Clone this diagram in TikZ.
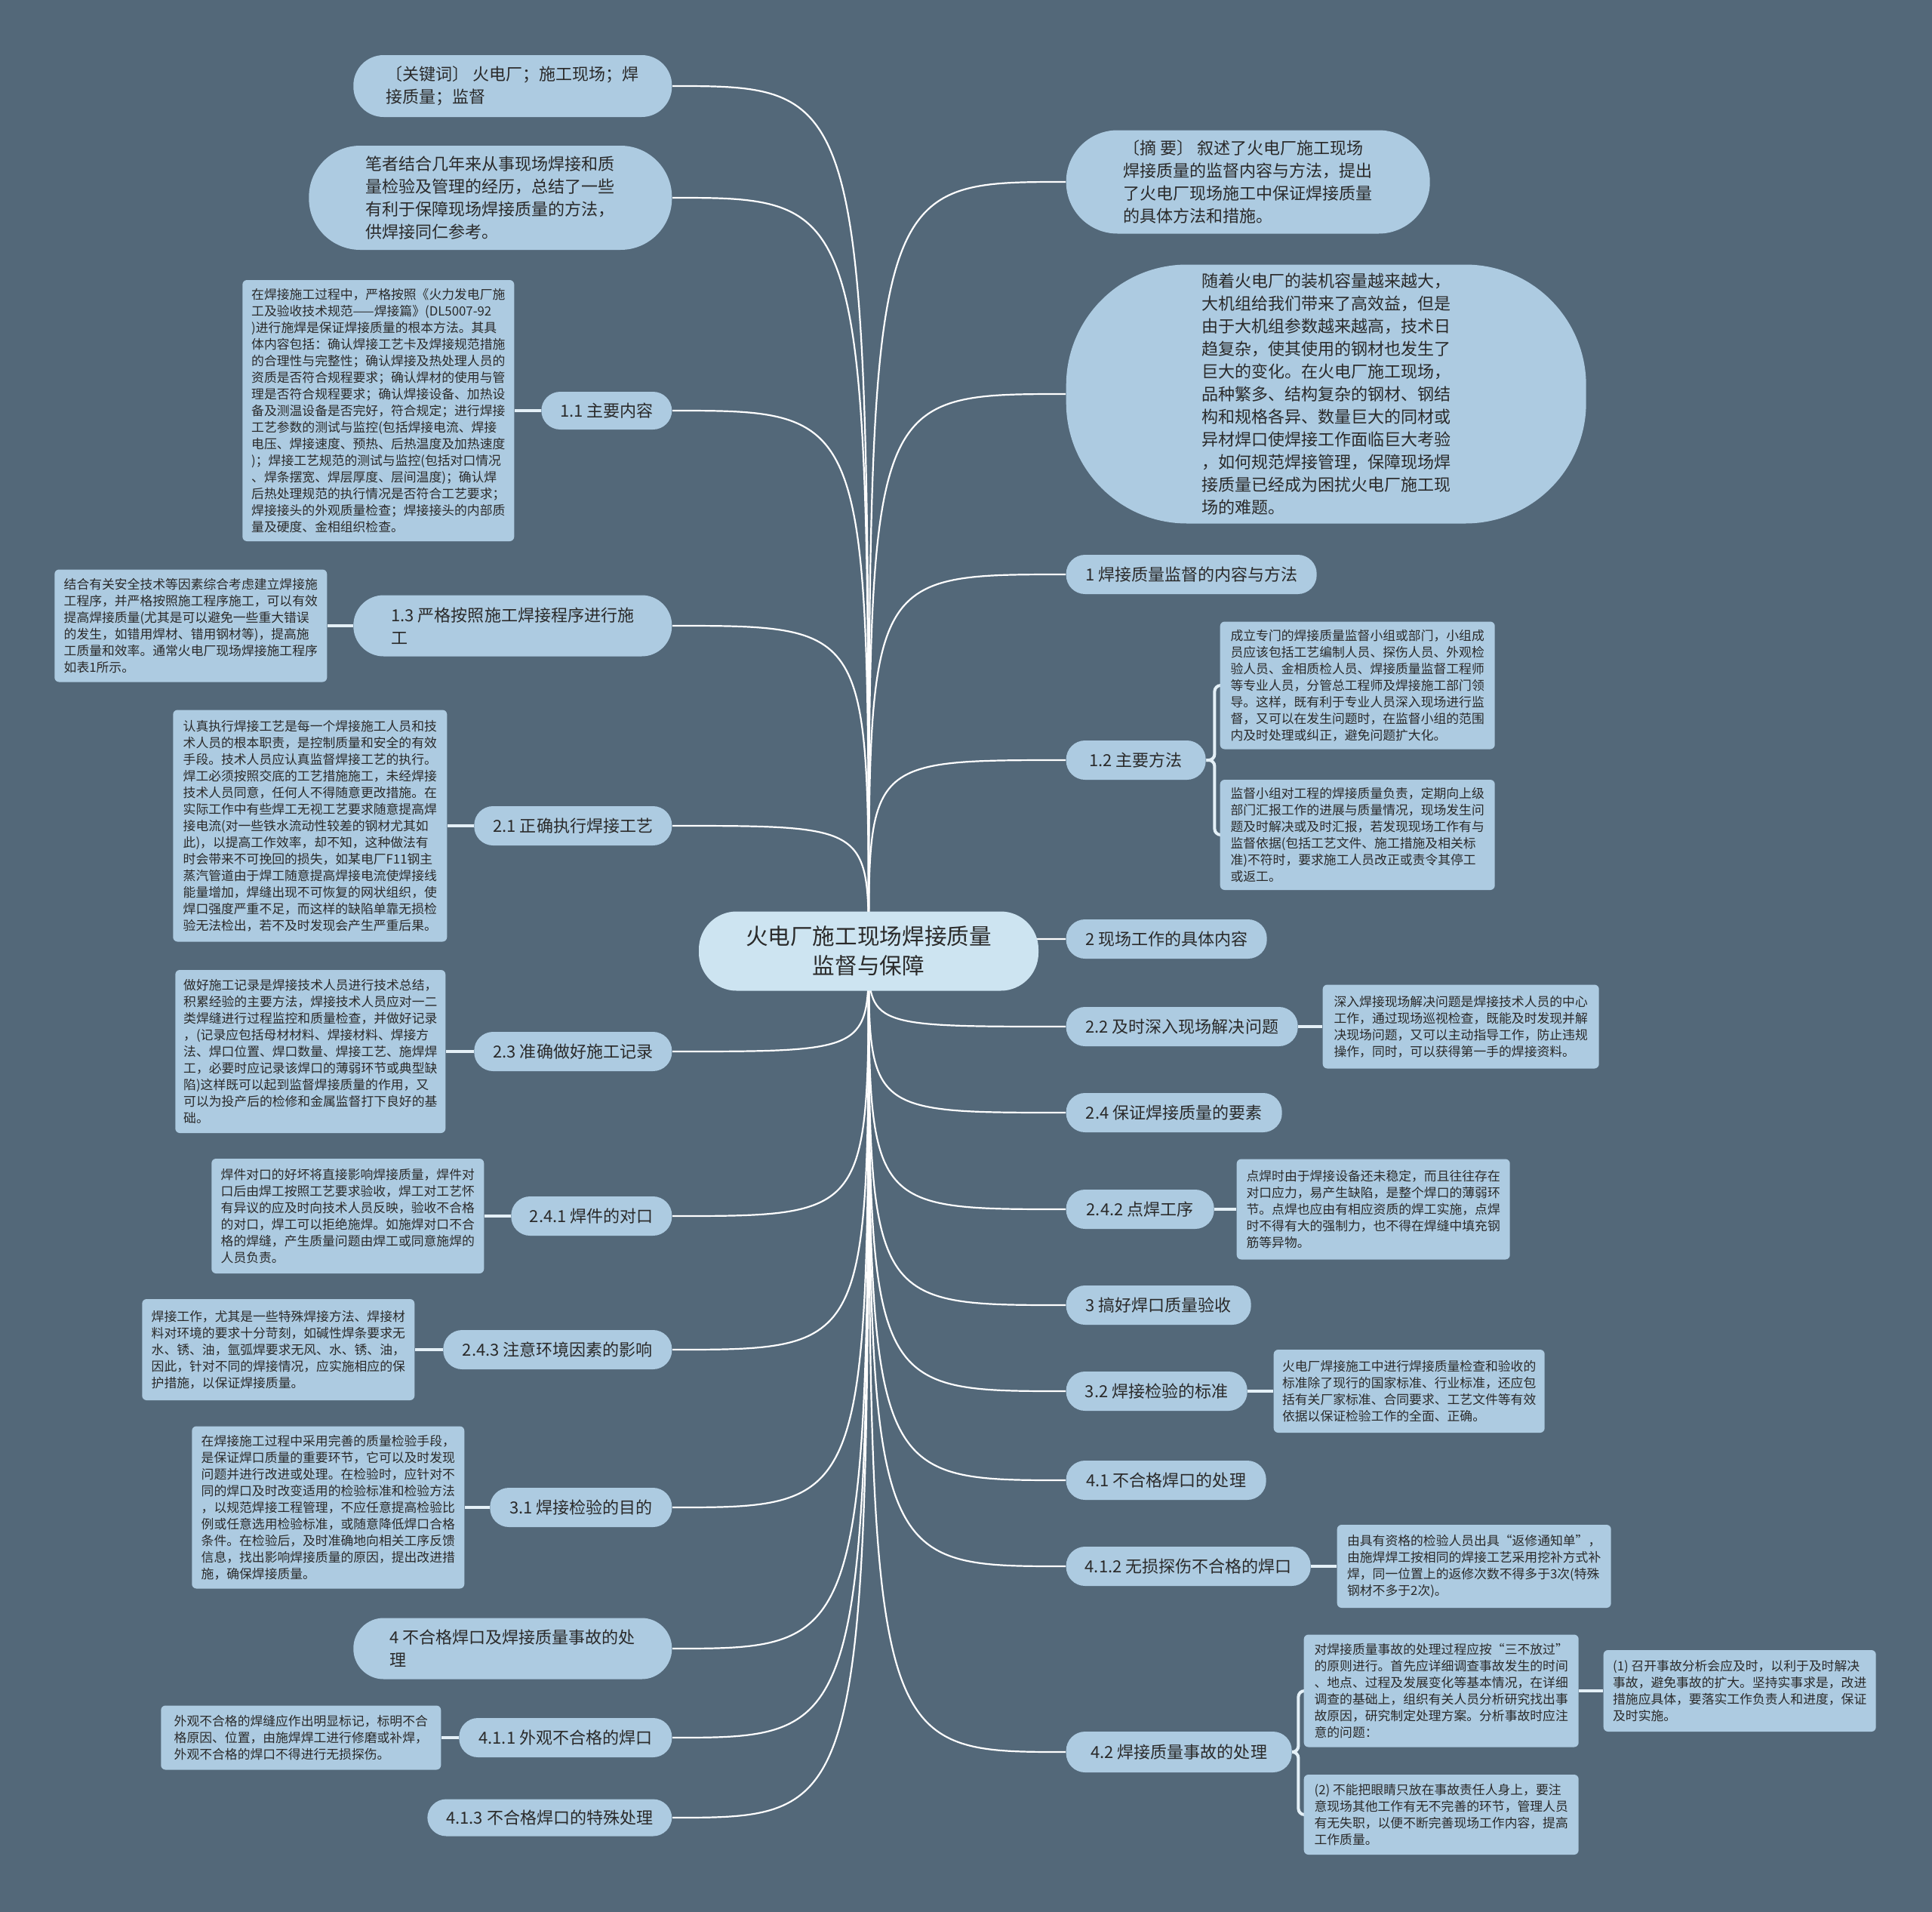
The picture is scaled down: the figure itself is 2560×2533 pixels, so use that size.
\documentclass[tikz,border=0pt]{standalone}
\usepackage{fontspec}
\setmainfont{Noto Sans CJK SC}
\usetikzlibrary{calc}
\pgfdeclarelayer{back}
\pgfdeclarelayer{wires}
\pgfsetlayers{back,wires,main}
\definecolor{bgc}{HTML}{536879}
\definecolor{nodefill}{HTML}{ADCBE1}
\definecolor{ctrfill}{HTML}{CDE4F1}
\definecolor{txt}{HTML}{2A2A2A}
\definecolor{dwc}{HTML}{E4F0F7}
\newcommand\dtfont{\fontsize{4.78pt}{6.26pt}\selectfont}
\newcommand\lvfont{\fontsize{6.26pt}{8.54pt}\selectfont}
\newcommand\ctfont{\fontsize{8.42pt}{11.1pt}\selectfont}
\tikzset{
  bx/.style 2 args={minimum width=#1*0.01cm, minimum height=#2*0.01cm},
  base/.style={fill=nodefill, text=txt, inner sep=0pt, align=left},
  pill/.style={base, rounded corners=0.25cm, font=\lvfont},
  bigpill/.style={base, font=\lvfont},
  detail/.style={base, rounded corners=0.06cm, font=\dtfont},
  ctrnode/.style={fill=ctrfill, text=txt, inner sep=0pt, align=center, rounded corners=0.5cm, font=\ctfont},
  wire/.style={draw=white, line width=0.022cm},
  dwire/.style={draw=dwc, line width=0.04cm},
}
\begin{document}
\begin{tikzpicture}[x=0.01cm, y=-0.01cm]
\begin{pgfonlayer}{back}
\fill[bgc] (0,0) rectangle (2560,2533);
\end{pgfonlayer}
\useasboundingbox (0,0) rectangle (2560,2533);

% center
\node[ctrnode, bx={450}{105}] (ctr) at (1151,1260) {火电厂施工现场焊接质量\\监督与保障};
\coordinate (o) at (1151,1260);

% ---------- left side ----------
\node[bigpill, rounded corners=0.4cm, bx={422}{82}, anchor=east] (kw) at (891,114) {〔关键词〕 火电厂；施工现场；焊\\接质量；监督};
\node[bigpill, rounded corners=0.68cm, bx={481}{138}, anchor=east] (bz) at (891,262) {笔者结合几年来从事现场焊接和质\\量检验及管理的经历，总结了一些\\有利于保障现场焊接质量的方法，\\供焊接同仁参考。};

\node[pill, bx={173}{50}, anchor=east] (n11) at (891,544) {1.1 主要内容};
\node[detail, bx={360}{346}, anchor=east] (d11) at (682,544) {在焊接施工过程中，严格按照《火力发电厂施\\工及验收技术规范——焊接篇》(DL5007-92\\)进行施焊是保证焊接质量的根本方法。其具\\体内容包括：确认焊接工艺卡及焊接规范措施\\的合理性与完整性；确认焊接及热处理人员的\\资质是否符合规程要求；确认焊材的使用与管\\理是否符合规程要求；确认焊接设备、加热设\\备及测温设备是否完好，符合规定；进行焊接\\工艺参数的测试与监控(包括焊接电流、焊接\\电压、焊接速度、预热、后热温度及加热速度\\)；焊接工艺规范的测试与监控(包括对口情况\\、焊条摆宽、焊层厚度、层间温度)；确认焊\\后热处理规范的执行情况是否符合工艺要求；\\焊接接头的外观质量检查；焊接接头的内部质\\量及硬度、金相组织检查。};

\node[bigpill, rounded corners=0.4cm, bx={422}{81}, anchor=east] (n13) at (891,829) {1.3 严格按照施工焊接程序进行施\\工};
\node[detail, bx={361}{149}, anchor=east] (d13) at (434,829) {结合有关安全技术等因素综合考虑建立焊接施\\工程序，并严格按照施工程序施工，可以有效\\提高焊接质量(尤其是可以避免一些重大错误\\的发生，如错用焊材、错用钢材等)，提高施\\工质量和效率。通常火电厂现场焊接施工程序\\如表1所示。};

\node[pill, bx={262}{52}, anchor=east] (n21) at (891,1094) {2.1 正确执行焊接工艺};
\node[detail, bx={363}{307}, anchor=east] (d21) at (593,1094) {认真执行焊接工艺是每一个焊接施工人员和技\\术人员的根本职责，是控制质量和安全的有效\\手段。技术人员应认真监督焊接工艺的执行。\\焊工必须按照交底的工艺措施施工，未经焊接\\技术人员同意，任何人不得随意更改措施。在\\实际工作中有些焊工无视工艺要求随意提高焊\\接电流(对一些铁水流动性较差的钢材尤其如\\此)，以提高工作效率，却不知，这种做法有\\时会带来不可挽回的损失，如某电厂F11钢主\\蒸汽管道由于焊工随意提高焊接电流使焊接线\\能量增加，焊缝出现不可恢复的网状组织，使\\焊口强度严重不足，而这样的缺陷单靠无损检\\验无法检出，若不及时发现会产生严重后果。};

\node[pill, bx={262}{52}, anchor=east] (n23) at (891,1393) {2.3 准确做好施工记录};
\node[detail, bx={358}{216}, anchor=east] (d23) at (591,1393) {做好施工记录是焊接技术人员进行技术总结，\\积累经验的主要方法，焊接技术人员应对一二\\类焊缝进行过程监控和质量检查，并做好记录\\，(记录应包括母材材料、焊接材料、焊接方\\法、焊口位置、焊口数量、焊接工艺、施焊焊\\工，必要时应记录该焊口的薄弱环节或典型缺\\陷)这样既可以起到监督焊接质量的作用，又\\可以为投产后的检修和金属监督打下良好的基\\础。};

\node[pill, bx={213}{52}, anchor=east] (n241) at (891,1611) {2.4.1 焊件的对口};
\node[detail, bx={361}{152}, anchor=east] (d241) at (642,1611) {焊件对口的好坏将直接影响焊接质量，焊件对\\口后由焊工按照工艺要求验收，焊工对工艺怀\\有异议的应及时向技术人员反映，验收不合格\\的对口，焊工可以拒绝施焊。如施焊对口不合\\格的焊缝，产生质量问题由焊工或同意施焊的\\人员负责。};

\node[pill, bx={303}{52}, anchor=east] (n243) at (891,1788) {2.4.3 注意环境因素的影响};
\node[detail, bx={361}{134}, anchor=east] (d243) at (550,1788) {焊接工作，尤其是一些特殊焊接方法、焊接材\\料对环境的要求十分苛刻，如碱性焊条要求无\\水、锈、油，氩弧焊要求无风、水、锈、油，\\因此，针对不同的焊接情况，应实施相应的保\\护措施，以保证焊接质量。};

\node[pill, bx={241}{52}, anchor=east] (n31) at (891,1997) {3.1 焊接检验的目的};
\node[detail, bx={361}{215}, anchor=east] (d31) at (616,1997) {在焊接施工过程中采用完善的质量检验手段，\\是保证焊口质量的重要环节，它可以及时发现\\问题并进行改进或处理。在检验时，应针对不\\同的焊口及时改变适用的检验标准和检验方法\\，以规范焊接工程管理，不应任意提高检验比\\例或任意选用检验标准，或随意降低焊口合格\\条件。在检验后，及时准确地向相关工序反馈\\信息，找出影响焊接质量的原因，提出改进措\\施，确保焊接质量。};

\node[bigpill, rounded corners=0.4cm, bx={422}{81}, anchor=east] (n4) at (891,2184) {4 不合格焊口及焊接质量事故的处\\理};

\node[pill, bx={282}{52}, anchor=east] (n411) at (891,2302) {4.1.1 外观不合格的焊口};
\node[detail, bx={371}{85}, anchor=east] (d411) at (585,2302) {外观不合格的焊缝应作出明显标记，标明不合\\格原因、位置，由施焊焊工进行修磨或补焊，\\外观不合格的焊口不得进行无损探伤。};

\node[pill, bx={324}{49}, anchor=east] (n413) at (891,2408) {4.1.3 不合格焊口的特殊处理};

% ---------- right side ----------
\node[bigpill, rounded corners=0.68cm, bx={482}{137}, anchor=west] (zy) at (1412,241) {〔摘 要〕 叙述了火电厂施工现场\\焊接质量的监督内容与方法，提出\\了火电厂现场施工中保证焊接质量\\的具体方法和措施。};
\node[bigpill, rounded corners=1.6cm, bx={689}{343}, anchor=west] (big) at (1412,522) {随着火电厂的装机容量越来越大，\\大机组给我们带来了高效益，但是\\由于大机组参数越来越高，技术日\\趋复杂，使其使用的钢材也发生了\\巨大的变化。在火电厂施工现场，\\品种繁多、结构复杂的钢材、钢结\\构和规格各异、数量巨大的同材或\\异材焊口使焊接工作面临巨大考验\\，如何规范焊接管理，保障现场焊\\接质量已经成为困扰火电厂施工现\\场的难题。};

\node[pill, bx={332}{52}, anchor=west] (n1) at (1412,761) {1 焊接质量监督的内容与方法};

\node[pill, bx={185}{52}, anchor=west] (n12) at (1412,1007) {1.2 主要方法};
\node[detail, bx={364}{169}, anchor=west] (d12a) at (1616,908) {成立专门的焊接质量监督小组或部门，小组成\\员应该包括工艺编制人员、探伤人员、外观检\\验人员、金相质检人员、焊接质量监督工程师\\等专业人员，分管总工程师及焊接施工部门领\\导。这样，既有利于专业人员深入现场进行监\\督，又可以在发生问题时，在监督小组的范围\\内及时处理或纠正，避免问题扩大化。};
\node[detail, bx={364}{146}, anchor=west] (d12b) at (1616,1106) {监督小组对工程的焊接质量负责，定期向上级\\部门汇报工作的进展与质量情况，现场发生问\\题及时解决或及时汇报，若发现现场工作有与\\监督依据(包括工艺文件、施工措施及相关标\\准)不符时，要求施工人员改正或责令其停工\\或返工。};

\node[pill, bx={266}{52}, anchor=west] (n2) at (1412,1244) {2 现场工作的具体内容};

\node[pill, bx={307}{52}, anchor=west] (n22) at (1412,1360) {2.2 及时深入现场解决问题};
\node[detail, bx={366}{111}, anchor=west] (d22) at (1752,1360) {深入焊接现场解决问题是焊接技术人员的中心\\工作，通过现场巡视检查，既能及时发现并解\\决现场问题，又可以主动指导工作，防止违规\\操作，同时，可以获得第一手的焊接资料。};

\node[pill, bx={286}{52}, anchor=west] (n24) at (1412,1474) {2.4 保证焊接质量的要素};

\node[pill, bx={196}{52}, anchor=west] (n242) at (1412,1602) {2.4.2 点焊工序};
\node[detail, bx={362}{133}, anchor=west] (d242) at (1638,1602) {点焊时由于焊接设备还未稳定，而且往往存在\\对口应力，易产生缺陷，是整个焊口的薄弱环\\节。点焊也应由有相应资质的焊工实施，点焊\\时不得有大的强制力，也不得在焊缝中填充钢\\筋等异物。};

\node[pill, bx={245}{52}, anchor=west] (n3) at (1412,1729) {3 搞好焊口质量验收};

\node[pill, bx={240}{52}, anchor=west] (n32) at (1412,1843) {3.2 焊接检验的标准};
\node[detail, bx={359}{110}, anchor=west] (d32) at (1687,1843) {火电厂焊接施工中进行焊接质量检查和验收的\\标准除了现行的国家标准、行业标准，还应包\\括有关厂家标准、合同要求、工艺文件等有效\\依据以保证检验工作的全面、正确。};

\node[pill, bx={265}{52}, anchor=west] (n41) at (1412,1961) {4.1 不合格焊口的处理};

\node[pill, bx={324}{52}, anchor=west] (n412) at (1412,2075) {4.1.2 无损探伤不合格的焊口};
\node[detail, bx={363}{110}, anchor=west] (d412) at (1771,2075) {由具有资格的检验人员出具“返修通知单”，\\由施焊焊工按相同的焊接工艺采用挖补方式补\\焊，同一位置上的返修次数不得多于3次(特殊\\钢材不多于2次)。};

\node[pill, bx={299}{54}, anchor=west] (n42) at (1412,2321) {4.2 焊接质量事故的处理};
\node[detail, bx={364}{149}, anchor=west] (d42a) at (1727,2240) {对焊接质量事故的处理过程应按“三不放过”\\的原则进行。首先应详细调查事故发生的时间\\、地点、过程及发展变化等基本情况，在详细\\调查的基础上，组织有关人员分析研究找出事\\故原因，研究制定处理方案。分析事故时应注\\意的问题：};
\node[detail, bx={364}{106}, anchor=west] (d42b) at (1727,2404) {(2) 不能把眼睛只放在事故责任人身上，要注\\意现场其他工作有无不完善的环节，管理人员\\有无失职，以便不断完善现场工作内容，提高\\工作质量。};
\node[detail, bx={361}{108}, anchor=west] (d42c) at (2124,2240) {(1) 召开事故分析会应及时，以利于及时解决\\事故，避免事故的扩大。坚持实事求是，改进\\措施应具体，要落实工作负责人和进度，保证\\及时实施。};

% ---------- connectors ----------
\begin{pgfonlayer}{wires}
\foreach \t in {kw,bz,n11,n13,n21,n23,n241,n243,n31,n4,n411,n413}{
  \draw[wire] (o) .. controls (o |- \t.east) .. (\t.east);
}
\foreach \t in {zy,big,n1,n12,n2,n22,n24,n242,n3,n32,n41,n412,n42}{
  \draw[wire] (o) .. controls (o |- \t.west) .. (\t.west);
}
\foreach \a/\b in {n11/d11,n13/d13,n21/d21,n23/d23,n241/d241,n243/d243,n31/d31,n411/d411}{
  \draw[dwire] (\a.west) -- (\b.east);
}
\foreach \a/\b in {n22/d22,n242/d242,n32/d32,n412/d412,d42a/d42c}{
  \draw[dwire] (\a.east) -- (\b.west);
}
\draw[dwire, rounded corners=0.08cm] (n12.east) -- ++(11,0) |- (d12a.west);
\draw[dwire, rounded corners=0.08cm] (n12.east) -- ++(11,0) |- (d12b.west);
\draw[dwire, rounded corners=0.08cm] (n42.east) -- ++(8,0) |- (d42a.west);
\draw[dwire, rounded corners=0.08cm] (n42.east) -- ++(8,0) |- (d42b.west);
\end{pgfonlayer}
\end{tikzpicture}
\end{document}
